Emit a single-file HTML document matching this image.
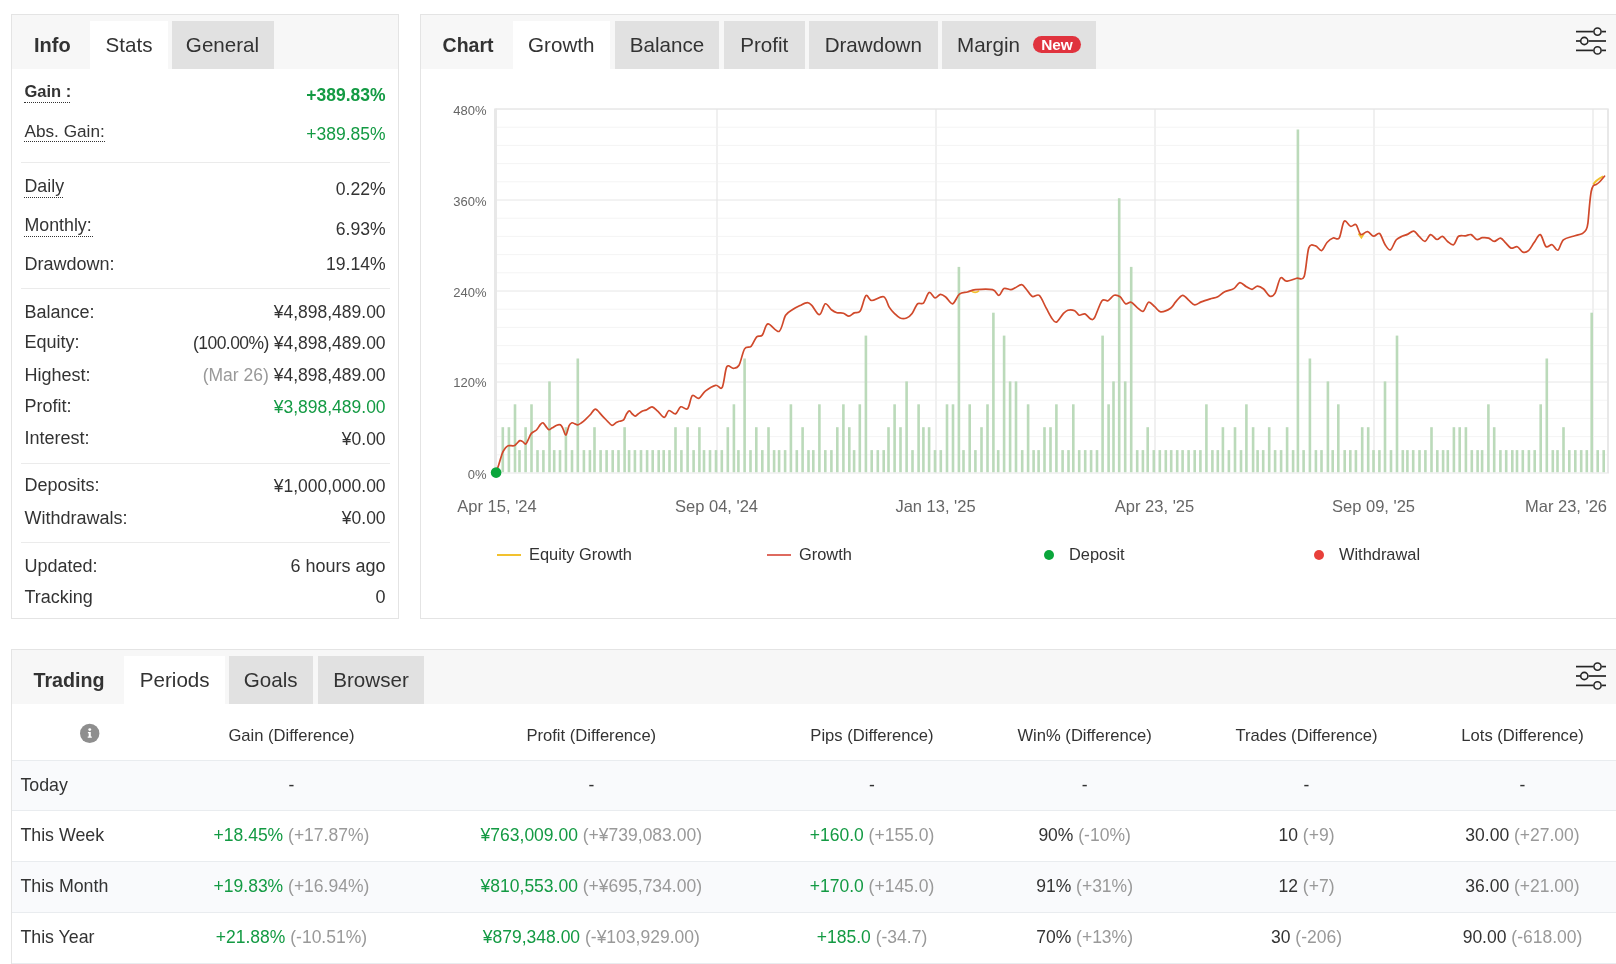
<!DOCTYPE html>
<html><head><meta charset="utf-8"><title>Stats</title>
<style>
html,body{margin:0;padding:0;background:#fff;}
body{width:1616px;height:964px;position:relative;overflow:hidden;font-family:"Liberation Sans",sans-serif;}
.t{position:absolute;white-space:nowrap;}
#w{position:absolute;left:0;top:0;width:1616px;height:964px;will-change:transform;}
.r{position:absolute;}
</style></head><body><div id="w">
<div class="r" style="left:11px;top:14px;width:388px;height:605px;background:#fff;border:1px solid #e4e4e4;box-sizing:border-box;"></div>
<div class="r" style="left:12px;top:15px;width:386px;height:54px;background:#f7f7f7;"></div>
<div class="r" style="left:90px;top:21px;width:78px;height:48px;background:#fff;"></div>
<div class="r" style="left:172px;top:21px;width:102px;height:48px;background:#e1e1e1;"></div>
<div class="t" style="left:34px;top:33.37px;font-size:20px;line-height:24.0px;color:#333;font-weight:700;">Info</div>
<div class="t" style="left:-171px;width:600px;text-align:center;top:32.80px;font-size:20.6px;line-height:24.72px;color:#333;">Stats</div>
<div class="t" style="left:-77.5px;width:600px;text-align:center;top:32.80px;font-size:20.6px;line-height:24.72px;color:#333;">General</div>
<div class="t" style="left:24.5px;top:82.18px;font-size:16.5px;line-height:19.8px;color:#333;font-weight:700;">Gain :</div>
<div class="r" style="left:23.8px;top:101.8px;width:45.900000000000006px;height:0;border-top:1.5px dotted #333;"></div>
<div class="t" style="right:1230.4px;text-align:right;top:84.74px;font-size:17.5px;line-height:21.0px;color:#139a43;font-weight:700;">+389.83%</div>
<div class="t" style="left:24.5px;top:120.52px;font-size:17.2px;line-height:20.64px;color:#333;">Abs. Gain:</div>
<div class="r" style="left:23.8px;top:140.8px;width:80.9px;height:0;border-top:1.5px dotted #333;"></div>
<div class="t" style="right:1230.4px;text-align:right;top:123.74px;font-size:17.5px;line-height:21.0px;color:#139a43;">+389.85%</div>
<div class="r" style="left:21px;top:162px;width:369px;height:1px;background:#ebebeb;"></div>
<div class="t" style="left:24.5px;top:176.15px;font-size:17.8px;line-height:21.36px;color:#333;">Daily</div>
<div class="r" style="left:23.8px;top:196.7px;width:39.2px;height:0;border-top:1.5px dotted #333;"></div>
<div class="t" style="right:1230.4px;text-align:right;top:178.74px;font-size:17.6px;line-height:21.12px;color:#333;">0.22%</div>
<div class="t" style="left:24.5px;top:214.95px;font-size:17.8px;line-height:21.36px;color:#333;">Monthly:</div>
<div class="r" style="left:23.8px;top:235.5px;width:69.2px;height:0;border-top:1.5px dotted #333;"></div>
<div class="t" style="right:1230.4px;text-align:right;top:218.74px;font-size:17.6px;line-height:21.12px;color:#333;">6.93%</div>
<div class="t" style="left:24.5px;top:253.56px;font-size:18px;line-height:21.6px;color:#333;">Drawdown:</div>
<div class="t" style="right:1230.4px;text-align:right;top:253.94px;font-size:17.6px;line-height:21.12px;color:#333;">19.14%</div>
<div class="r" style="left:21px;top:288px;width:369px;height:1px;background:#ebebeb;"></div>
<div class="t" style="left:24.5px;top:301.66px;font-size:18px;line-height:21.6px;color:#333;">Balance:</div>
<div class="t" style="right:1230.4px;text-align:right;top:302.14px;font-size:17.5px;line-height:21.0px;color:#333;">¥4,898,489.00</div>
<div class="t" style="left:24.5px;top:332.36px;font-size:18px;line-height:21.6px;color:#333;">Equity:</div>
<div class="t" style="right:1230.4px;text-align:right;top:332.84px;font-size:17.5px;line-height:21.0px;color:#333;"><span style="letter-spacing:-0.55px">(100.00%)</span> ¥4,898,489.00</div>
<div class="t" style="left:24.5px;top:364.76px;font-size:18px;line-height:21.6px;color:#333;">Highest:</div>
<div class="t" style="right:1230.4px;text-align:right;top:365.24px;font-size:17.5px;line-height:21.0px;color:#333;"><span style="color:#999">(Mar 26)</span> ¥4,898,489.00</div>
<div class="t" style="left:24.5px;top:396.46px;font-size:18px;line-height:21.6px;color:#333;">Profit:</div>
<div class="t" style="right:1230.4px;text-align:right;top:396.94px;font-size:17.5px;line-height:21.0px;color:#333;"><span style="color:#139a43">¥3,898,489.00</span></div>
<div class="t" style="left:24.5px;top:428.16px;font-size:18px;line-height:21.6px;color:#333;">Interest:</div>
<div class="t" style="right:1230.4px;text-align:right;top:428.64px;font-size:17.5px;line-height:21.0px;color:#333;">¥0.00</div>
<div class="r" style="left:21px;top:463px;width:369px;height:1px;background:#ebebeb;"></div>
<div class="t" style="left:24.5px;top:475.46px;font-size:18px;line-height:21.6px;color:#333;">Deposits:</div>
<div class="t" style="right:1230.4px;text-align:right;top:475.94px;font-size:17.5px;line-height:21.0px;color:#333;">¥1,000,000.00</div>
<div class="t" style="left:24.5px;top:507.96px;font-size:18px;line-height:21.6px;color:#333;">Withdrawals:</div>
<div class="t" style="right:1230.4px;text-align:right;top:508.44px;font-size:17.5px;line-height:21.0px;color:#333;">¥0.00</div>
<div class="r" style="left:21px;top:542px;width:369px;height:1px;background:#ebebeb;"></div>
<div class="t" style="left:24.5px;top:556.26px;font-size:18px;line-height:21.6px;color:#333;">Updated:</div>
<div class="t" style="right:1230.4px;text-align:right;top:556.26px;font-size:18px;line-height:21.6px;color:#333;">6 hours ago</div>
<div class="t" style="left:24.5px;top:587.16px;font-size:18px;line-height:21.6px;color:#333;">Tracking</div>
<div class="t" style="right:1230.4px;text-align:right;top:587.16px;font-size:18px;line-height:21.6px;color:#333;">0</div>
<div class="r" style="left:420px;top:14px;width:1220px;height:605px;background:#fff;border:1px solid #e4e4e4;box-sizing:border-box;"></div>
<div class="r" style="left:421px;top:15px;width:1219px;height:54px;background:#f7f7f7;"></div>
<div class="t" style="left:442.6px;top:33.84px;font-size:19.5px;line-height:23.4px;color:#333;font-weight:700;">Chart</div>
<div class="r" style="left:513px;top:21px;width:96.5px;height:48px;background:#fff;"></div>
<div class="t" style="left:261.25px;width:600px;text-align:center;top:32.80px;font-size:20.6px;line-height:24.72px;color:#333;">Growth</div>
<div class="r" style="left:615px;top:21px;width:104px;height:48px;background:#e1e1e1;"></div>
<div class="t" style="left:367.0px;width:600px;text-align:center;top:32.80px;font-size:20.6px;line-height:24.72px;color:#333;">Balance</div>
<div class="r" style="left:724px;top:21px;width:80.5px;height:48px;background:#e1e1e1;"></div>
<div class="t" style="left:464.25px;width:600px;text-align:center;top:32.80px;font-size:20.6px;line-height:24.72px;color:#333;">Profit</div>
<div class="r" style="left:809px;top:21px;width:128.60000000000002px;height:48px;background:#e1e1e1;"></div>
<div class="t" style="left:573.3px;width:600px;text-align:center;top:32.80px;font-size:20.6px;line-height:24.72px;color:#333;">Drawdown</div>
<div class="r" style="left:942.4px;top:21px;width:153.30000000000007px;height:48px;background:#e1e1e1;"></div>
<div class="t" style="left:957px;top:32.80px;font-size:20.6px;line-height:24.72px;color:#333;">Margin</div>
<div class="r" style="left:1033px;top:35.8px;width:48px;height:17.0px;background:#e0333e;border-radius:8.5px;"></div>
<div class="t" style="left:757px;width:600px;text-align:center;top:36.02px;font-size:15.4px;line-height:18.48px;color:#fff;font-weight:700;">New</div>
<svg class="r" style="left:1570px;top:20.799999999999997px" width="44" height="40" viewBox="1570 20.799999999999997 44 40"><line x1="1576" y1="31.4" x2="1593.2" y2="31.4" stroke="#262626" stroke-width="1.7"/><line x1="1601.8" y1="31.4" x2="1606" y2="31.4" stroke="#262626" stroke-width="1.7"/><circle cx="1597.5" cy="31.4" r="3.6" fill="none" stroke="#262626" stroke-width="1.6"/><line x1="1576" y1="40.8" x2="1580.0" y2="40.8" stroke="#262626" stroke-width="1.7"/><line x1="1588.6" y1="40.8" x2="1606" y2="40.8" stroke="#262626" stroke-width="1.7"/><circle cx="1584.3" cy="40.8" r="3.6" fill="none" stroke="#262626" stroke-width="1.6"/><line x1="1576" y1="50.199999999999996" x2="1593.2" y2="50.199999999999996" stroke="#262626" stroke-width="1.7"/><line x1="1601.8" y1="50.199999999999996" x2="1606" y2="50.199999999999996" stroke="#262626" stroke-width="1.7"/><circle cx="1597.5" cy="50.199999999999996" r="3.6" fill="none" stroke="#262626" stroke-width="1.6"/></svg>
<svg class="r" style="left:421px;top:69px" width="1195" height="549" viewBox="421 69 1195 549"><line x1="496" y1="127.2" x2="1607" y2="127.2" stroke="#f4f4f4" stroke-width="1"/><line x1="496" y1="145.4" x2="1607" y2="145.4" stroke="#f4f4f4" stroke-width="1"/><line x1="496" y1="163.6" x2="1607" y2="163.6" stroke="#f4f4f4" stroke-width="1"/><line x1="496" y1="181.8" x2="1607" y2="181.8" stroke="#f4f4f4" stroke-width="1"/><line x1="496" y1="218.2" x2="1607" y2="218.2" stroke="#f4f4f4" stroke-width="1"/><line x1="496" y1="236.4" x2="1607" y2="236.4" stroke="#f4f4f4" stroke-width="1"/><line x1="496" y1="254.6" x2="1607" y2="254.6" stroke="#f4f4f4" stroke-width="1"/><line x1="496" y1="272.8" x2="1607" y2="272.8" stroke="#f4f4f4" stroke-width="1"/><line x1="496" y1="309.2" x2="1607" y2="309.2" stroke="#f4f4f4" stroke-width="1"/><line x1="496" y1="327.4" x2="1607" y2="327.4" stroke="#f4f4f4" stroke-width="1"/><line x1="496" y1="345.6" x2="1607" y2="345.6" stroke="#f4f4f4" stroke-width="1"/><line x1="496" y1="363.8" x2="1607" y2="363.8" stroke="#f4f4f4" stroke-width="1"/><line x1="496" y1="400.2" x2="1607" y2="400.2" stroke="#f4f4f4" stroke-width="1"/><line x1="496" y1="418.4" x2="1607" y2="418.4" stroke="#f4f4f4" stroke-width="1"/><line x1="496" y1="436.6" x2="1607" y2="436.6" stroke="#f4f4f4" stroke-width="1"/><line x1="496" y1="454.8" x2="1607" y2="454.8" stroke="#f4f4f4" stroke-width="1"/><line x1="717" y1="109" x2="717" y2="473" stroke="#f0f0f0" stroke-width="2"/><line x1="936" y1="109" x2="936" y2="473" stroke="#f0f0f0" stroke-width="2"/><line x1="1155" y1="109" x2="1155" y2="473" stroke="#f0f0f0" stroke-width="2"/><line x1="1374" y1="109" x2="1374" y2="473" stroke="#f0f0f0" stroke-width="2"/><line x1="1593" y1="109" x2="1593" y2="473" stroke="#f0f0f0" stroke-width="2"/><line x1="496" y1="109.0" x2="1607" y2="109.0" stroke="#e6e6e6" stroke-width="1"/><line x1="496" y1="200.0" x2="1607" y2="200.0" stroke="#e6e6e6" stroke-width="1"/><line x1="496" y1="291.0" x2="1607" y2="291.0" stroke="#e6e6e6" stroke-width="1"/><line x1="496" y1="382.0" x2="1607" y2="382.0" stroke="#e6e6e6" stroke-width="1"/><line x1="496" y1="473.0" x2="1607" y2="473.0" stroke="#e6e6e6" stroke-width="1"/><line x1="495.5" y1="108.5" x2="495.5" y2="473.5" stroke="#e8e8e8" stroke-width="3"/><line x1="1608" y1="108.5" x2="1608" y2="473.5" stroke="#e8e8e8" stroke-width="2"/><line x1="495" y1="109" x2="1608" y2="109" stroke="#e6e6e6" stroke-width="1"/><rect x="501.5" y="427.2" width="2.6" height="45.0" fill="#bbdaba"/><rect x="507.6" y="427.2" width="2.6" height="45.0" fill="#bbdaba"/><rect x="513.7" y="404.3" width="2.6" height="67.9" fill="#bbdaba"/><rect x="518.2" y="450.1" width="2.6" height="22.1" fill="#bbdaba"/><rect x="524.3" y="427.2" width="2.6" height="45.0" fill="#bbdaba"/><rect x="530.2" y="404.3" width="2.6" height="67.9" fill="#bbdaba"/><rect x="536.2" y="450.1" width="2.6" height="22.1" fill="#bbdaba"/><rect x="542.1" y="450.1" width="2.6" height="22.1" fill="#bbdaba"/><rect x="548.2" y="381.4" width="2.6" height="90.8" fill="#bbdaba"/><rect x="552.9" y="450.1" width="2.6" height="22.1" fill="#bbdaba"/><rect x="558.7" y="450.1" width="2.6" height="22.1" fill="#bbdaba"/><rect x="564.6" y="427.2" width="2.6" height="45.0" fill="#bbdaba"/><rect x="570.7" y="450.1" width="2.6" height="22.1" fill="#bbdaba"/><rect x="576.5" y="358.5" width="2.6" height="113.7" fill="#bbdaba"/><rect x="582.6" y="450.1" width="2.6" height="22.1" fill="#bbdaba"/><rect x="588.6" y="450.1" width="2.6" height="22.1" fill="#bbdaba"/><rect x="593.2" y="427.2" width="2.6" height="45.0" fill="#bbdaba"/><rect x="599.3" y="450.1" width="2.6" height="22.1" fill="#bbdaba"/><rect x="605.3" y="450.1" width="2.6" height="22.1" fill="#bbdaba"/><rect x="611.4" y="450.1" width="2.6" height="22.1" fill="#bbdaba"/><rect x="617.2" y="450.1" width="2.6" height="22.1" fill="#bbdaba"/><rect x="623.3" y="427.2" width="2.6" height="45.0" fill="#bbdaba"/><rect x="627.8" y="450.1" width="2.6" height="22.1" fill="#bbdaba"/><rect x="633.6" y="450.1" width="2.6" height="22.1" fill="#bbdaba"/><rect x="639.7" y="450.1" width="2.6" height="22.1" fill="#bbdaba"/><rect x="645.8" y="450.1" width="2.6" height="22.1" fill="#bbdaba"/><rect x="651.4" y="450.1" width="2.6" height="22.1" fill="#bbdaba"/><rect x="657.4" y="450.1" width="2.6" height="22.1" fill="#bbdaba"/><rect x="662.4" y="450.1" width="2.6" height="22.1" fill="#bbdaba"/><rect x="668.2" y="450.1" width="2.6" height="22.1" fill="#bbdaba"/><rect x="674.2" y="427.2" width="2.6" height="45.0" fill="#bbdaba"/><rect x="680.1" y="450.1" width="2.6" height="22.1" fill="#bbdaba"/><rect x="686.3" y="427.2" width="2.6" height="45.0" fill="#bbdaba"/><rect x="692.3" y="450.1" width="2.6" height="22.1" fill="#bbdaba"/><rect x="698.1" y="427.2" width="2.6" height="45.0" fill="#bbdaba"/><rect x="702.7" y="450.1" width="2.6" height="22.1" fill="#bbdaba"/><rect x="708.7" y="450.1" width="2.6" height="22.1" fill="#bbdaba"/><rect x="714.7" y="450.1" width="2.6" height="22.1" fill="#bbdaba"/><rect x="720.5" y="450.1" width="2.6" height="22.1" fill="#bbdaba"/><rect x="726.5" y="427.2" width="2.6" height="45.0" fill="#bbdaba"/><rect x="732.6" y="404.3" width="2.6" height="67.9" fill="#bbdaba"/><rect x="737.1" y="450.1" width="2.6" height="22.1" fill="#bbdaba"/><rect x="743.3" y="358.5" width="2.6" height="113.7" fill="#bbdaba"/><rect x="749.2" y="450.1" width="2.6" height="22.1" fill="#bbdaba"/><rect x="755.0" y="427.2" width="2.6" height="45.0" fill="#bbdaba"/><rect x="761.0" y="450.1" width="2.6" height="22.1" fill="#bbdaba"/><rect x="767.2" y="427.2" width="2.6" height="45.0" fill="#bbdaba"/><rect x="772.8" y="450.1" width="2.6" height="22.1" fill="#bbdaba"/><rect x="777.8" y="450.1" width="2.6" height="22.1" fill="#bbdaba"/><rect x="783.8" y="450.1" width="2.6" height="22.1" fill="#bbdaba"/><rect x="789.6" y="404.3" width="2.6" height="67.9" fill="#bbdaba"/><rect x="795.5" y="450.1" width="2.6" height="22.1" fill="#bbdaba"/><rect x="801.3" y="427.2" width="2.6" height="45.0" fill="#bbdaba"/><rect x="807.2" y="450.1" width="2.6" height="22.1" fill="#bbdaba"/><rect x="812.0" y="450.1" width="2.6" height="22.1" fill="#bbdaba"/><rect x="818.1" y="404.3" width="2.6" height="67.9" fill="#bbdaba"/><rect x="824.0" y="450.1" width="2.6" height="22.1" fill="#bbdaba"/><rect x="830.1" y="450.1" width="2.6" height="22.1" fill="#bbdaba"/><rect x="836.0" y="427.2" width="2.6" height="45.0" fill="#bbdaba"/><rect x="842.1" y="404.3" width="2.6" height="67.9" fill="#bbdaba"/><rect x="848.0" y="427.2" width="2.6" height="45.0" fill="#bbdaba"/><rect x="852.8" y="450.1" width="2.6" height="22.1" fill="#bbdaba"/><rect x="858.5" y="404.3" width="2.6" height="67.9" fill="#bbdaba"/><rect x="864.6" y="335.6" width="2.6" height="136.6" fill="#bbdaba"/><rect x="870.4" y="450.1" width="2.6" height="22.1" fill="#bbdaba"/><rect x="876.5" y="450.1" width="2.6" height="22.1" fill="#bbdaba"/><rect x="882.4" y="450.1" width="2.6" height="22.1" fill="#bbdaba"/><rect x="887.2" y="427.2" width="2.6" height="45.0" fill="#bbdaba"/><rect x="893.3" y="404.3" width="2.6" height="67.9" fill="#bbdaba"/><rect x="899.2" y="427.2" width="2.6" height="45.0" fill="#bbdaba"/><rect x="905.3" y="381.4" width="2.6" height="90.8" fill="#bbdaba"/><rect x="911.2" y="450.1" width="2.6" height="22.1" fill="#bbdaba"/><rect x="917.3" y="404.3" width="2.6" height="67.9" fill="#bbdaba"/><rect x="922.1" y="427.2" width="2.6" height="45.0" fill="#bbdaba"/><rect x="927.8" y="427.2" width="2.6" height="45.0" fill="#bbdaba"/><rect x="933.7" y="450.1" width="2.6" height="22.1" fill="#bbdaba"/><rect x="939.5" y="450.1" width="2.6" height="22.1" fill="#bbdaba"/><rect x="945.7" y="404.3" width="2.6" height="67.9" fill="#bbdaba"/><rect x="951.7" y="404.3" width="2.6" height="67.9" fill="#bbdaba"/><rect x="957.6" y="266.9" width="2.6" height="205.3" fill="#bbdaba"/><rect x="962.2" y="450.1" width="2.6" height="22.1" fill="#bbdaba"/><rect x="968.4" y="404.3" width="2.6" height="67.9" fill="#bbdaba"/><rect x="974.1" y="450.1" width="2.6" height="22.1" fill="#bbdaba"/><rect x="980.2" y="427.2" width="2.6" height="45.0" fill="#bbdaba"/><rect x="986.2" y="404.3" width="2.6" height="67.9" fill="#bbdaba"/><rect x="992.1" y="312.7" width="2.6" height="159.5" fill="#bbdaba"/><rect x="996.9" y="450.1" width="2.6" height="22.1" fill="#bbdaba"/><rect x="1002.8" y="335.6" width="2.6" height="136.6" fill="#bbdaba"/><rect x="1008.8" y="381.4" width="2.6" height="90.8" fill="#bbdaba"/><rect x="1014.7" y="381.4" width="2.6" height="90.8" fill="#bbdaba"/><rect x="1020.9" y="450.1" width="2.6" height="22.1" fill="#bbdaba"/><rect x="1026.8" y="404.3" width="2.6" height="67.9" fill="#bbdaba"/><rect x="1032.3" y="450.1" width="2.6" height="22.1" fill="#bbdaba"/><rect x="1037.3" y="450.1" width="2.6" height="22.1" fill="#bbdaba"/><rect x="1043.2" y="427.2" width="2.6" height="45.0" fill="#bbdaba"/><rect x="1049.2" y="427.2" width="2.6" height="45.0" fill="#bbdaba"/><rect x="1055.1" y="404.3" width="2.6" height="67.9" fill="#bbdaba"/><rect x="1061.3" y="450.1" width="2.6" height="22.1" fill="#bbdaba"/><rect x="1067.2" y="450.1" width="2.6" height="22.1" fill="#bbdaba"/><rect x="1072.0" y="404.3" width="2.6" height="67.9" fill="#bbdaba"/><rect x="1077.9" y="450.1" width="2.6" height="22.1" fill="#bbdaba"/><rect x="1083.9" y="450.1" width="2.6" height="22.1" fill="#bbdaba"/><rect x="1089.8" y="450.1" width="2.6" height="22.1" fill="#bbdaba"/><rect x="1095.7" y="450.1" width="2.6" height="22.1" fill="#bbdaba"/><rect x="1101.3" y="335.6" width="2.6" height="136.6" fill="#bbdaba"/><rect x="1107.3" y="404.3" width="2.6" height="67.9" fill="#bbdaba"/><rect x="1112.2" y="381.4" width="2.6" height="90.8" fill="#bbdaba"/><rect x="1117.9" y="198.2" width="2.6" height="274.0" fill="#bbdaba"/><rect x="1123.9" y="381.4" width="2.6" height="90.8" fill="#bbdaba"/><rect x="1129.9" y="266.9" width="2.6" height="205.3" fill="#bbdaba"/><rect x="1135.9" y="450.1" width="2.6" height="22.1" fill="#bbdaba"/><rect x="1141.6" y="450.1" width="2.6" height="22.1" fill="#bbdaba"/><rect x="1146.4" y="427.2" width="2.6" height="45.0" fill="#bbdaba"/><rect x="1152.5" y="450.1" width="2.6" height="22.1" fill="#bbdaba"/><rect x="1158.5" y="450.1" width="2.6" height="22.1" fill="#bbdaba"/><rect x="1164.5" y="450.1" width="2.6" height="22.1" fill="#bbdaba"/><rect x="1169.9" y="450.1" width="2.6" height="22.1" fill="#bbdaba"/><rect x="1175.9" y="450.1" width="2.6" height="22.1" fill="#bbdaba"/><rect x="1181.3" y="450.1" width="2.6" height="22.1" fill="#bbdaba"/><rect x="1187.3" y="450.1" width="2.6" height="22.1" fill="#bbdaba"/><rect x="1193.4" y="450.1" width="2.6" height="22.1" fill="#bbdaba"/><rect x="1199.1" y="450.1" width="2.6" height="22.1" fill="#bbdaba"/><rect x="1205.1" y="404.3" width="2.6" height="67.9" fill="#bbdaba"/><rect x="1211.1" y="450.1" width="2.6" height="22.1" fill="#bbdaba"/><rect x="1216.5" y="450.1" width="2.6" height="22.1" fill="#bbdaba"/><rect x="1221.6" y="427.2" width="2.6" height="45.0" fill="#bbdaba"/><rect x="1227.6" y="450.1" width="2.6" height="22.1" fill="#bbdaba"/><rect x="1233.7" y="427.2" width="2.6" height="45.0" fill="#bbdaba"/><rect x="1239.7" y="450.1" width="2.6" height="22.1" fill="#bbdaba"/><rect x="1245.1" y="404.3" width="2.6" height="67.9" fill="#bbdaba"/><rect x="1251.8" y="427.2" width="2.6" height="45.0" fill="#bbdaba"/><rect x="1256.3" y="450.1" width="2.6" height="22.1" fill="#bbdaba"/><rect x="1261.9" y="450.1" width="2.6" height="22.1" fill="#bbdaba"/><rect x="1267.9" y="427.2" width="2.6" height="45.0" fill="#bbdaba"/><rect x="1273.8" y="450.1" width="2.6" height="22.1" fill="#bbdaba"/><rect x="1279.8" y="450.1" width="2.6" height="22.1" fill="#bbdaba"/><rect x="1285.8" y="427.2" width="2.6" height="45.0" fill="#bbdaba"/><rect x="1291.8" y="450.1" width="2.6" height="22.1" fill="#bbdaba"/><rect x="1296.6" y="129.5" width="2.6" height="342.7" fill="#bbdaba"/><rect x="1302.3" y="450.1" width="2.6" height="22.1" fill="#bbdaba"/><rect x="1308.6" y="358.5" width="2.6" height="113.7" fill="#bbdaba"/><rect x="1314.6" y="450.1" width="2.6" height="22.1" fill="#bbdaba"/><rect x="1320.2" y="450.1" width="2.6" height="22.1" fill="#bbdaba"/><rect x="1326.6" y="381.4" width="2.6" height="90.8" fill="#bbdaba"/><rect x="1331.4" y="450.1" width="2.6" height="22.1" fill="#bbdaba"/><rect x="1337.0" y="404.3" width="2.6" height="67.9" fill="#bbdaba"/><rect x="1343.4" y="450.1" width="2.6" height="22.1" fill="#bbdaba"/><rect x="1349.0" y="450.1" width="2.6" height="22.1" fill="#bbdaba"/><rect x="1354.6" y="450.1" width="2.6" height="22.1" fill="#bbdaba"/><rect x="1360.9" y="427.2" width="2.6" height="45.0" fill="#bbdaba"/><rect x="1366.9" y="427.2" width="2.6" height="45.0" fill="#bbdaba"/><rect x="1372.2" y="450.1" width="2.6" height="22.1" fill="#bbdaba"/><rect x="1378.1" y="450.1" width="2.6" height="22.1" fill="#bbdaba"/><rect x="1383.7" y="381.4" width="2.6" height="90.8" fill="#bbdaba"/><rect x="1389.7" y="450.1" width="2.6" height="22.1" fill="#bbdaba"/><rect x="1395.7" y="335.6" width="2.6" height="136.6" fill="#bbdaba"/><rect x="1401.5" y="450.1" width="2.6" height="22.1" fill="#bbdaba"/><rect x="1406.1" y="450.1" width="2.6" height="22.1" fill="#bbdaba"/><rect x="1411.9" y="450.1" width="2.6" height="22.1" fill="#bbdaba"/><rect x="1418.2" y="450.1" width="2.6" height="22.1" fill="#bbdaba"/><rect x="1424.1" y="450.1" width="2.6" height="22.1" fill="#bbdaba"/><rect x="1430.2" y="427.2" width="2.6" height="45.0" fill="#bbdaba"/><rect x="1436.0" y="450.1" width="2.6" height="22.1" fill="#bbdaba"/><rect x="1441.8" y="450.1" width="2.6" height="22.1" fill="#bbdaba"/><rect x="1446.5" y="450.1" width="2.6" height="22.1" fill="#bbdaba"/><rect x="1452.6" y="427.2" width="2.6" height="45.0" fill="#bbdaba"/><rect x="1458.4" y="427.2" width="2.6" height="45.0" fill="#bbdaba"/><rect x="1464.6" y="427.2" width="2.6" height="45.0" fill="#bbdaba"/><rect x="1470.5" y="450.1" width="2.6" height="22.1" fill="#bbdaba"/><rect x="1476.3" y="450.1" width="2.6" height="22.1" fill="#bbdaba"/><rect x="1480.8" y="450.1" width="2.6" height="22.1" fill="#bbdaba"/><rect x="1487.1" y="404.3" width="2.6" height="67.9" fill="#bbdaba"/><rect x="1492.9" y="427.2" width="2.6" height="45.0" fill="#bbdaba"/><rect x="1499.1" y="450.1" width="2.6" height="22.1" fill="#bbdaba"/><rect x="1504.9" y="450.1" width="2.6" height="22.1" fill="#bbdaba"/><rect x="1511.0" y="450.1" width="2.6" height="22.1" fill="#bbdaba"/><rect x="1515.7" y="450.1" width="2.6" height="22.1" fill="#bbdaba"/><rect x="1521.5" y="450.1" width="2.6" height="22.1" fill="#bbdaba"/><rect x="1527.6" y="450.1" width="2.6" height="22.1" fill="#bbdaba"/><rect x="1533.4" y="450.1" width="2.6" height="22.1" fill="#bbdaba"/><rect x="1539.4" y="404.3" width="2.6" height="67.9" fill="#bbdaba"/><rect x="1545.5" y="358.5" width="2.6" height="113.7" fill="#bbdaba"/><rect x="1551.5" y="450.1" width="2.6" height="22.1" fill="#bbdaba"/><rect x="1556.2" y="450.1" width="2.6" height="22.1" fill="#bbdaba"/><rect x="1562.2" y="427.2" width="2.6" height="45.0" fill="#bbdaba"/><rect x="1568.0" y="450.1" width="2.6" height="22.1" fill="#bbdaba"/><rect x="1574.0" y="450.1" width="2.6" height="22.1" fill="#bbdaba"/><rect x="1579.9" y="450.1" width="2.6" height="22.1" fill="#bbdaba"/><rect x="1585.5" y="450.1" width="2.6" height="22.1" fill="#bbdaba"/><rect x="1590.4" y="312.7" width="2.6" height="159.5" fill="#bbdaba"/><rect x="1596.4" y="450.1" width="2.6" height="22.1" fill="#bbdaba"/><rect x="1602.4" y="450.1" width="2.6" height="22.1" fill="#bbdaba"/><path d="M1593.3,184.6 C1595,181.5 1599,178.5 1603.2,176.4" fill="none" stroke="#f2c12e" stroke-width="2"/><path d="M1358.5,233.5 L1361.4,237.6 L1364,233.5" fill="none" stroke="#f2c12e" stroke-width="1.8"/><path d="M971,290.6 Q975,294 979,290.8" fill="none" stroke="#f2c12e" stroke-width="1.6"/><path d="M496.1,472.1 C496.5,470.9 497.7,467.9 498.7,464.9 C499.7,461.9 501.3,455.9 502.3,453.2 C503.3,450.5 504.3,449.4 505.2,448.2 C506.1,447.0 506.7,446.1 508.1,445.7 C509.5,445.3 512.6,446.1 514.0,445.7 C515.4,445.3 516.0,444.2 516.9,443.4 C517.8,442.6 518.9,440.9 519.8,440.6 C520.7,440.3 521.8,441.0 522.7,441.6 C523.6,442.2 524.8,444.3 525.6,444.1 C526.4,443.9 527.1,441.9 528.0,440.2 C528.9,438.5 530.0,435.0 531.4,433.4 C532.8,431.8 535.1,431.4 536.5,430.0 C537.9,428.6 539.1,426.1 540.1,424.9 C541.1,423.7 542.1,422.6 543.0,422.8 C543.9,423.0 545.0,425.3 545.9,426.4 C546.8,427.5 547.8,429.5 548.8,429.7 C549.8,429.9 551.1,428.5 552.4,427.8 C553.7,427.1 555.5,425.7 556.8,425.2 C558.1,424.7 559.5,424.5 560.4,424.9 C561.3,425.3 561.7,426.2 562.6,427.8 C563.5,429.4 564.8,435.4 565.8,435.1 C566.8,434.8 568.1,427.7 569.1,425.7 C570.1,423.7 571.1,423.1 572.0,422.8 C572.9,422.5 574.0,423.6 574.9,423.9 C575.8,424.2 576.7,425.1 577.8,424.9 C578.9,424.7 580.2,423.7 581.5,422.8 C582.8,421.9 584.4,420.4 585.8,419.1 C587.2,417.8 588.8,416.4 590.2,414.8 C591.6,413.2 593.3,410.1 594.5,409.4 C595.7,408.7 596.1,409.3 597.4,410.4 C598.7,411.5 600.9,414.5 602.5,416.2 C604.1,417.9 606.1,419.8 607.6,421.3 C609.1,422.8 610.6,425.2 612.0,425.4 C613.4,425.6 615.1,423.2 616.3,422.5 C617.5,421.8 618.0,421.7 619.2,421.3 C620.4,420.9 622.4,421.1 623.6,419.9 C624.8,418.7 625.6,415.4 626.5,414.0 C627.4,412.6 628.5,410.9 629.4,410.9 C630.3,410.9 631.4,413.2 632.3,414.0 C633.2,414.8 634.3,416.2 635.2,416.2 C636.1,416.2 636.9,414.8 638.1,414.0 C639.3,413.2 641.1,411.8 642.5,411.1 C643.9,410.4 645.3,410.4 646.8,409.7 C648.3,409.0 650.4,406.6 652.1,406.8 C653.8,407.0 655.7,409.4 657.7,411.1 C659.7,412.8 662.5,417.4 664.3,417.3 C666.1,417.2 667.1,411.0 668.9,410.5 C670.7,410.0 673.6,414.5 675.5,413.9 C677.4,413.3 678.8,407.6 680.7,406.8 C682.6,406.0 685.7,410.5 687.6,408.7 C689.5,406.9 690.5,397.2 692.3,395.6 C694.1,394.0 696.7,399.1 698.8,398.4 C700.9,397.7 702.6,393.2 705.3,391.1 C708.0,389.0 712.9,385.9 715.6,385.3 C718.3,384.7 720.4,390.4 722.2,387.4 C724.0,384.4 725.0,369.9 726.8,366.8 C728.6,363.7 731.4,368.5 733.4,368.3 C735.4,368.1 737.2,368.4 739.0,365.3 C740.8,362.2 742.7,351.9 744.6,348.9 C746.5,345.9 749.2,348.2 751.1,346.3 C753.0,344.4 754.9,338.6 756.7,336.8 C758.5,335.0 760.5,337.2 762.3,335.1 C764.1,333.0 765.2,324.5 767.9,323.9 C770.6,323.3 776.3,332.8 779.1,331.4 C781.9,330.0 783.4,318.8 785.6,315.3 C787.8,311.8 790.8,310.9 793.1,309.3 C795.4,307.7 797.7,306.7 800.0,305.6 C802.3,304.5 805.5,302.7 807.4,302.7 C809.3,302.7 809.9,303.4 811.8,305.3 C813.7,307.2 817.2,314.9 819.4,314.7 C821.6,314.5 823.4,304.6 825.3,303.8 C827.2,303.0 829.5,308.3 831.4,309.7 C833.3,311.1 835.0,312.1 836.9,312.7 C838.8,313.3 841.5,312.6 843.4,313.2 C845.3,313.8 847.2,316.2 848.9,316.2 C850.6,316.2 852.5,313.7 854.3,312.9 C856.1,312.1 858.3,313.8 860.2,311.0 C862.1,308.2 864.1,297.4 865.9,295.7 C867.7,294.0 868.9,300.3 871.7,300.5 C874.5,300.7 880.9,295.7 883.7,296.8 C886.5,297.9 887.5,304.4 889.2,307.1 C890.9,309.8 892.9,311.9 894.6,313.6 C896.3,315.3 898.2,317.3 900.1,318.0 C902.0,318.7 904.7,318.7 906.6,318.0 C908.5,317.3 910.4,315.9 912.1,313.6 C913.8,311.3 915.7,305.5 917.5,303.8 C919.3,302.1 921.5,304.9 923.4,303.1 C925.3,301.3 927.2,293.3 929.1,292.5 C931.0,291.7 933.2,297.6 935.0,297.9 C936.8,298.2 938.7,294.5 940.4,294.4 C942.1,294.3 943.9,295.7 945.9,297.2 C947.9,298.7 950.4,304.3 952.6,303.8 C954.8,303.3 957.0,296.1 959.4,294.2 C961.8,292.3 964.8,292.7 967.4,292.0 C970.0,291.3 971.4,290.1 975.4,289.7 C979.4,289.3 988.7,288.8 992.5,289.7 C996.3,290.6 997.1,295.6 998.9,295.4 C1000.7,295.2 1002.0,289.4 1003.9,288.5 C1005.8,287.6 1009.0,289.8 1010.8,289.7 C1012.6,289.6 1013.6,288.6 1015.3,287.8 C1017.0,287.0 1019.9,284.4 1021.7,284.7 C1023.5,285.0 1025.0,287.8 1026.7,289.7 C1028.4,291.6 1030.4,295.6 1032.4,296.5 C1034.4,297.4 1037.1,293.6 1039.3,295.4 C1041.5,297.2 1044.1,304.3 1046.1,307.9 C1048.1,311.5 1050.2,315.9 1051.8,318.2 C1053.4,320.5 1054.6,322.8 1056.4,322.1 C1058.2,321.4 1061.5,315.5 1063.3,313.6 C1065.1,311.7 1066.0,310.7 1067.8,310.2 C1069.6,309.7 1072.9,309.9 1074.7,310.7 C1076.5,311.5 1077.6,314.7 1079.2,315.2 C1080.8,315.7 1083.1,313.3 1084.9,313.9 C1086.7,314.5 1089.1,318.3 1090.6,318.9 C1092.1,319.5 1092.7,320.7 1094.5,317.8 C1096.3,314.9 1099.8,303.4 1102.0,300.7 C1104.2,298.0 1106.1,301.6 1108.0,300.7 C1109.9,299.8 1112.2,295.9 1114.1,295.3 C1116.0,294.7 1118.3,295.5 1120.1,296.8 C1121.9,298.1 1123.7,302.8 1125.5,303.7 C1127.3,304.6 1129.3,301.5 1131.2,302.2 C1133.1,302.9 1135.6,306.5 1137.5,307.9 C1139.4,309.3 1141.4,312.1 1143.2,311.2 C1145.0,310.3 1146.8,302.9 1148.6,302.2 C1150.4,301.5 1152.8,305.2 1154.7,306.7 C1156.6,308.2 1158.2,311.6 1160.7,311.8 C1163.2,312.0 1168.2,309.8 1170.6,308.2 C1173.0,306.6 1173.8,304.0 1175.7,301.9 C1177.6,299.8 1180.4,295.5 1182.6,295.3 C1184.8,295.1 1187.3,299.2 1189.2,300.7 C1191.1,302.2 1192.8,304.7 1194.7,304.9 C1196.6,305.1 1198.8,302.9 1201.3,301.9 C1203.8,300.9 1207.7,299.7 1210.3,298.9 C1212.9,298.1 1215.5,298.0 1217.8,296.8 C1220.1,295.6 1222.1,293.0 1224.7,291.7 C1227.3,290.4 1231.4,290.1 1233.8,288.6 C1236.2,287.1 1237.8,282.9 1239.8,282.6 C1241.8,282.3 1244.4,285.7 1246.4,286.8 C1248.4,287.9 1250.3,289.4 1252.1,289.3 C1253.9,289.2 1255.7,286.1 1257.5,286.1 C1259.3,286.1 1261.6,287.4 1263.6,289.0 C1265.6,290.6 1267.9,295.4 1269.7,296.1 C1271.5,296.8 1273.4,296.0 1275.1,293.1 C1276.8,290.2 1278.7,279.9 1280.5,278.0 C1282.3,276.1 1283.9,281.2 1286.5,281.2 C1289.1,281.2 1293.9,278.9 1296.7,278.2 C1299.5,277.5 1302.2,281.4 1304.1,276.6 C1306.0,271.8 1307.0,252.8 1308.8,247.9 C1310.6,243.0 1313.5,245.5 1315.5,245.9 C1317.5,246.3 1319.8,251.1 1321.6,250.6 C1323.4,250.1 1325.2,244.5 1327.0,242.5 C1328.8,240.5 1331.1,238.7 1333.1,238.0 C1335.1,237.3 1337.4,240.7 1339.2,238.0 C1341.0,235.3 1342.3,223.2 1344.1,221.3 C1345.9,219.4 1348.7,225.8 1350.6,226.3 C1352.5,226.8 1354.4,223.4 1356.0,224.7 C1357.6,226.0 1358.9,233.3 1360.7,234.4 C1362.5,235.5 1365.4,231.4 1367.5,231.7 C1369.6,232.0 1371.7,235.9 1373.6,236.2 C1375.5,236.5 1377.8,232.2 1379.6,233.5 C1381.4,234.8 1383.3,241.9 1385.0,244.5 C1386.7,247.1 1388.6,250.7 1390.4,249.9 C1392.2,249.1 1394.3,242.0 1396.3,239.8 C1398.3,237.6 1400.8,236.9 1402.6,236.0 C1404.4,235.1 1405.7,235.2 1407.5,234.4 C1409.3,233.6 1411.9,230.7 1413.8,231.1 C1415.7,231.5 1417.6,235.1 1419.4,236.7 C1421.2,238.3 1423.2,241.7 1425.0,241.4 C1426.8,241.1 1428.7,234.9 1430.6,234.6 C1432.5,234.3 1435.0,239.2 1436.9,239.5 C1438.8,239.8 1440.7,236.0 1442.4,236.3 C1444.1,236.6 1445.5,239.9 1447.3,241.2 C1449.1,242.5 1451.8,245.5 1453.6,244.7 C1455.4,243.9 1456.6,237.7 1458.5,236.3 C1460.4,234.9 1463.5,236.1 1465.5,235.8 C1467.5,235.5 1469.3,234.0 1471.1,234.6 C1472.9,235.2 1474.9,239.0 1476.7,239.5 C1478.5,240.0 1480.4,237.9 1482.3,237.7 C1484.2,237.5 1486.7,237.5 1488.6,238.1 C1490.5,238.7 1492.3,241.4 1494.2,241.4 C1496.1,241.4 1498.7,237.9 1500.5,238.1 C1502.3,238.3 1503.7,241.0 1505.4,242.6 C1507.1,244.2 1509.1,247.4 1511.0,248.1 C1512.9,248.8 1515.4,246.1 1517.3,246.7 C1519.2,247.3 1521.1,251.5 1522.9,252.1 C1524.7,252.7 1526.7,252.2 1528.5,250.7 C1530.3,249.2 1532.2,245.2 1534.1,242.6 C1536.0,240.0 1538.4,234.0 1540.3,234.6 C1542.2,235.2 1544.0,244.9 1545.9,246.5 C1547.8,248.1 1550.3,244.1 1552.2,244.7 C1554.1,245.3 1556.0,251.0 1557.8,250.2 C1559.6,249.4 1560.9,242.0 1563.4,239.8 C1565.9,237.6 1570.2,237.2 1573.3,236.2 C1576.4,235.2 1580.4,234.4 1582.5,233.4 C1584.6,232.4 1585.3,231.3 1586.2,229.7 C1587.1,228.1 1587.4,227.0 1587.9,223.1 C1588.4,219.2 1589.0,210.7 1589.5,205.6 C1590.0,200.5 1590.6,194.7 1591.2,191.5 C1591.8,188.3 1592.5,186.8 1593.3,185.7 C1594.1,184.6 1595.2,185.1 1596.2,184.5 C1597.2,183.9 1598.2,183.3 1599.5,182.0 C1600.8,180.7 1603.7,177.1 1604.5,176.2" fill="none" stroke="#d0492b" stroke-width="1.7" stroke-linejoin="round" stroke-linecap="round"/><circle cx="496.1" cy="472.6" r="5.3" fill="#0aa63b"/></svg>
<div class="t" style="right:1129.4px;text-align:right;top:102.80px;font-size:13px;line-height:15.6px;color:#666;">480%</div>
<div class="t" style="right:1129.4px;text-align:right;top:193.80px;font-size:13px;line-height:15.6px;color:#666;">360%</div>
<div class="t" style="right:1129.4px;text-align:right;top:285.30px;font-size:13px;line-height:15.6px;color:#666;">240%</div>
<div class="t" style="right:1129.4px;text-align:right;top:375.10px;font-size:13px;line-height:15.6px;color:#666;">120%</div>
<div class="t" style="right:1129.4px;text-align:right;top:467.20px;font-size:13px;line-height:15.6px;color:#666;">0%</div>
<div class="t" style="left:197px;width:600px;text-align:center;top:497.18px;font-size:16.5px;line-height:19.8px;color:#666;">Apr 15, '24</div>
<div class="t" style="left:416.5px;width:600px;text-align:center;top:497.18px;font-size:16.5px;line-height:19.8px;color:#666;">Sep 04, '24</div>
<div class="t" style="left:635.5px;width:600px;text-align:center;top:497.18px;font-size:16.5px;line-height:19.8px;color:#666;">Jan 13, '25</div>
<div class="t" style="left:854.5px;width:600px;text-align:center;top:497.18px;font-size:16.5px;line-height:19.8px;color:#666;">Apr 23, '25</div>
<div class="t" style="left:1073.5px;width:600px;text-align:center;top:497.18px;font-size:16.5px;line-height:19.8px;color:#666;">Sep 09, '25</div>
<div class="t" style="right:9px;text-align:right;top:497.18px;font-size:16.5px;line-height:19.8px;color:#666;">Mar 23, '26</div>
<div class="r" style="left:497px;top:554px;width:24px;height:2px;background:#f2c12e;"></div>
<div class="t" style="left:529px;top:544.78px;font-size:16.4px;line-height:19.68px;color:#333;">Equity Growth</div>
<div class="r" style="left:767px;top:554px;width:24px;height:2px;background:#de6a5f;"></div>
<div class="t" style="left:799px;top:544.78px;font-size:16.4px;line-height:19.68px;color:#333;">Growth</div>
<div class="r" style="left:1043.8px;top:549.5999999999999px;width:10.4px;height:10.4px;border-radius:50%;background:#0aa63b"></div>
<div class="t" style="left:1069px;top:544.78px;font-size:16.4px;line-height:19.68px;color:#333;">Deposit</div>
<div class="r" style="left:1313.8px;top:549.5999999999999px;width:10.4px;height:10.4px;border-radius:50%;background:#e8403a"></div>
<div class="t" style="left:1339px;top:544.78px;font-size:16.4px;line-height:19.68px;color:#333;">Withdrawal</div>
<div class="r" style="left:11px;top:649px;width:1629px;height:351px;background:#fff;border:1px solid #e4e4e4;box-sizing:border-box;"></div>
<div class="r" style="left:12px;top:650px;width:1628px;height:54px;background:#f7f7f7;"></div>
<div class="t" style="left:33.5px;top:669.15px;font-size:19.7px;line-height:23.64px;color:#333;font-weight:700;">Trading</div>
<div class="r" style="left:124px;top:656px;width:101.4px;height:48px;background:#fff;"></div>
<div class="t" style="left:-125.30000000000001px;width:600px;text-align:center;top:668.30px;font-size:20.6px;line-height:24.72px;color:#333;">Periods</div>
<div class="r" style="left:229px;top:656px;width:83.5px;height:48px;background:#e1e1e1;"></div>
<div class="t" style="left:-29.25px;width:600px;text-align:center;top:668.30px;font-size:20.6px;line-height:24.72px;color:#333;">Goals</div>
<div class="r" style="left:318px;top:656px;width:106px;height:48px;background:#e1e1e1;"></div>
<div class="t" style="left:71.0px;width:600px;text-align:center;top:668.30px;font-size:20.6px;line-height:24.72px;color:#333;">Browser</div>
<svg class="r" style="left:1570px;top:656.2px" width="44" height="40" viewBox="1570 656.2 44 40"><line x1="1576" y1="666.8000000000001" x2="1593.2" y2="666.8000000000001" stroke="#262626" stroke-width="1.7"/><line x1="1601.8" y1="666.8000000000001" x2="1606" y2="666.8000000000001" stroke="#262626" stroke-width="1.7"/><circle cx="1597.5" cy="666.8000000000001" r="3.6" fill="none" stroke="#262626" stroke-width="1.6"/><line x1="1576" y1="676.2" x2="1580.0" y2="676.2" stroke="#262626" stroke-width="1.7"/><line x1="1588.6" y1="676.2" x2="1606" y2="676.2" stroke="#262626" stroke-width="1.7"/><circle cx="1584.3" cy="676.2" r="3.6" fill="none" stroke="#262626" stroke-width="1.6"/><line x1="1576" y1="685.6" x2="1593.2" y2="685.6" stroke="#262626" stroke-width="1.7"/><line x1="1601.8" y1="685.6" x2="1606" y2="685.6" stroke="#262626" stroke-width="1.7"/><circle cx="1597.5" cy="685.6" r="3.6" fill="none" stroke="#262626" stroke-width="1.6"/></svg>
<div class="r" style="left:12px;top:760.5px;width:1604px;height:49.89999999999998px;background:#f9fafc;"></div>
<div class="r" style="left:12px;top:861px;width:1604px;height:51.299999999999955px;background:#f9fafc;"></div>
<div class="r" style="left:12px;top:760px;width:1604px;height:1px;background:#e9ecef;"></div>
<div class="r" style="left:12px;top:810px;width:1604px;height:1px;background:#e9ecef;"></div>
<div class="r" style="left:12px;top:861px;width:1604px;height:1px;background:#e9ecef;"></div>
<div class="r" style="left:12px;top:912px;width:1604px;height:1px;background:#e9ecef;"></div>
<div class="r" style="left:12px;top:963px;width:1604px;height:1px;background:#e9ecef;"></div>
<svg class="r" style="left:79px;top:723px" width="22" height="22" viewBox="0 0 22 22"><circle cx="10.7" cy="10.4" r="9.7" fill="#8e8e8e"/><circle cx="10.75" cy="6.6" r="1.45" fill="#fff"/><path d="M8.9,9.1 H11.8 V13.4 H12.8 V14.7 H8.7 V13.4 H9.7 V10.3 H8.9 Z" fill="#fff"/></svg>
<div class="t" style="left:-8.550000000000011px;width:600px;text-align:center;top:726.09px;font-size:16.6px;line-height:19.92px;color:#333;">Gain (Difference)</div>
<div class="t" style="left:291.29999999999995px;width:600px;text-align:center;top:726.09px;font-size:16.6px;line-height:19.92px;color:#333;">Profit (Difference)</div>
<div class="t" style="left:572px;width:600px;text-align:center;top:726.09px;font-size:16.6px;line-height:19.92px;color:#333;">Pips (Difference)</div>
<div class="t" style="left:784.5999999999999px;width:600px;text-align:center;top:726.09px;font-size:16.6px;line-height:19.92px;color:#333;">Win% (Difference)</div>
<div class="t" style="left:1006.5px;width:600px;text-align:center;top:726.09px;font-size:16.6px;line-height:19.92px;color:#333;">Trades (Difference)</div>
<div class="t" style="left:1222.5px;width:600px;text-align:center;top:726.09px;font-size:16.6px;line-height:19.92px;color:#333;">Lots (Difference)</div>
<div class="t" style="left:20.4px;top:774.75px;font-size:17.8px;line-height:21.36px;color:#333;">Today</div>
<div class="t" style="left:-8.550000000000011px;width:600px;text-align:center;top:775.04px;font-size:17.5px;line-height:21.0px;color:#333;">-</div>
<div class="t" style="left:291.29999999999995px;width:600px;text-align:center;top:775.04px;font-size:17.5px;line-height:21.0px;color:#333;">-</div>
<div class="t" style="left:572px;width:600px;text-align:center;top:775.04px;font-size:17.5px;line-height:21.0px;color:#333;">-</div>
<div class="t" style="left:784.5999999999999px;width:600px;text-align:center;top:775.04px;font-size:17.5px;line-height:21.0px;color:#333;">-</div>
<div class="t" style="left:1006.5px;width:600px;text-align:center;top:775.04px;font-size:17.5px;line-height:21.0px;color:#333;">-</div>
<div class="t" style="left:1222.5px;width:600px;text-align:center;top:775.04px;font-size:17.5px;line-height:21.0px;color:#333;">-</div>
<div class="t" style="left:20.4px;top:824.65px;font-size:17.8px;line-height:21.36px;color:#333;">This Week</div>
<div class="t" style="left:-8.550000000000011px;width:600px;text-align:center;top:824.94px;font-size:17.5px;line-height:21.0px;color:#333;"><span style="color:#139a43">+18.45%</span> <span style="color:#999">(+17.87%)</span></div>
<div class="t" style="left:291.29999999999995px;width:600px;text-align:center;top:824.94px;font-size:17.5px;line-height:21.0px;color:#333;"><span style="color:#139a43">¥763,009.00</span> <span style="color:#999">(+¥739,083.00)</span></div>
<div class="t" style="left:572px;width:600px;text-align:center;top:824.94px;font-size:17.5px;line-height:21.0px;color:#333;"><span style="color:#139a43">+160.0</span> <span style="color:#999">(+155.0)</span></div>
<div class="t" style="left:784.5999999999999px;width:600px;text-align:center;top:824.94px;font-size:17.5px;line-height:21.0px;color:#333;"><span style="color:#333">90%</span> <span style="color:#999">(-10%)</span></div>
<div class="t" style="left:1006.5px;width:600px;text-align:center;top:824.94px;font-size:17.5px;line-height:21.0px;color:#333;"><span style="color:#333">10</span> <span style="color:#999">(+9)</span></div>
<div class="t" style="left:1222.5px;width:600px;text-align:center;top:824.94px;font-size:17.5px;line-height:21.0px;color:#333;"><span style="color:#333">30.00</span> <span style="color:#999">(+27.00)</span></div>
<div class="t" style="left:20.4px;top:875.55px;font-size:17.8px;line-height:21.36px;color:#333;">This Month</div>
<div class="t" style="left:-8.550000000000011px;width:600px;text-align:center;top:875.84px;font-size:17.5px;line-height:21.0px;color:#333;"><span style="color:#139a43">+19.83%</span> <span style="color:#999">(+16.94%)</span></div>
<div class="t" style="left:291.29999999999995px;width:600px;text-align:center;top:875.84px;font-size:17.5px;line-height:21.0px;color:#333;"><span style="color:#139a43">¥810,553.00</span> <span style="color:#999">(+¥695,734.00)</span></div>
<div class="t" style="left:572px;width:600px;text-align:center;top:875.84px;font-size:17.5px;line-height:21.0px;color:#333;"><span style="color:#139a43">+170.0</span> <span style="color:#999">(+145.0)</span></div>
<div class="t" style="left:784.5999999999999px;width:600px;text-align:center;top:875.84px;font-size:17.5px;line-height:21.0px;color:#333;"><span style="color:#333">91%</span> <span style="color:#999">(+31%)</span></div>
<div class="t" style="left:1006.5px;width:600px;text-align:center;top:875.84px;font-size:17.5px;line-height:21.0px;color:#333;"><span style="color:#333">12</span> <span style="color:#999">(+7)</span></div>
<div class="t" style="left:1222.5px;width:600px;text-align:center;top:875.84px;font-size:17.5px;line-height:21.0px;color:#333;"><span style="color:#333">36.00</span> <span style="color:#999">(+21.00)</span></div>
<div class="t" style="left:20.4px;top:926.75px;font-size:17.8px;line-height:21.36px;color:#333;">This Year</div>
<div class="t" style="left:-8.550000000000011px;width:600px;text-align:center;top:927.04px;font-size:17.5px;line-height:21.0px;color:#333;"><span style="color:#139a43">+21.88%</span> <span style="color:#999">(-10.51%)</span></div>
<div class="t" style="left:291.29999999999995px;width:600px;text-align:center;top:927.04px;font-size:17.5px;line-height:21.0px;color:#333;"><span style="color:#139a43">¥879,348.00</span> <span style="color:#999">(-¥103,929.00)</span></div>
<div class="t" style="left:572px;width:600px;text-align:center;top:927.04px;font-size:17.5px;line-height:21.0px;color:#333;"><span style="color:#139a43">+185.0</span> <span style="color:#999">(-34.7)</span></div>
<div class="t" style="left:784.5999999999999px;width:600px;text-align:center;top:927.04px;font-size:17.5px;line-height:21.0px;color:#333;"><span style="color:#333">70%</span> <span style="color:#999">(+13%)</span></div>
<div class="t" style="left:1006.5px;width:600px;text-align:center;top:927.04px;font-size:17.5px;line-height:21.0px;color:#333;"><span style="color:#333">30</span> <span style="color:#999">(-206)</span></div>
<div class="t" style="left:1222.5px;width:600px;text-align:center;top:927.04px;font-size:17.5px;line-height:21.0px;color:#333;"><span style="color:#333">90.00</span> <span style="color:#999">(-618.00)</span></div>
</div></body></html>
